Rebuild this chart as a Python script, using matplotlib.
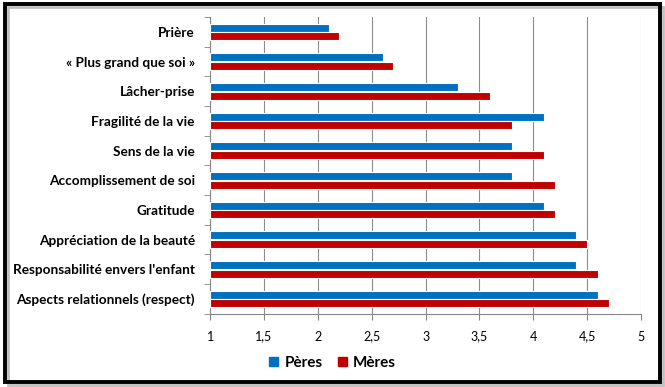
import matplotlib.pyplot as plt
import matplotlib.patches as mpatches
import numpy as np

plt.rcParams['font.family'] = ['Lato', 'DejaVu Sans']

# données
categories = ['Prière', '« Plus grand que soi »', 'Lâcher-prise', 'Fragilité de la vie',
              'Sens de la vie', 'Accomplissement de soi', 'Gratitude',
              'Appréciation de la beauté', "Responsabilité envers l'enfant",
              'Aspects relationnels (respect)']
peres = [2.1, 2.6, 3.3, 4.1, 3.8, 3.8, 4.1, 4.4, 4.4, 4.6]
meres = [2.2, 2.7, 3.6, 3.8, 4.1, 4.2, 4.2, 4.5, 4.6, 4.7]
xticks = [1, 1.5, 2, 2.5, 3, 3.5, 4, 4.5, 5]
xticklabels = ['1', '1,5', '2', '2,5', '3', '3,5', '4', '4,5', '5']

blue = '#0070C0'
red = '#C00000'

fig = plt.figure(figsize=(6.65, 3.87), dpi=100)
ax = fig.add_axes([0.316, 0.189, 0.648, 0.767])

n = len(categories)
y = np.arange(n)[::-1]
h = 0.27
ax.barh(y + h / 2 + 0.01, np.array(peres) - 1, left=1, height=h, color=blue,
        edgecolor='white', linewidth=0.8, label='Pères', zorder=3)
ax.barh(y - h / 2 - 0.01, np.array(meres) - 1, left=1, height=h, color=red,
        edgecolor='white', linewidth=0.8, label='Mères', zorder=3)

ax.set_xlim(1, 5)
ax.set_ylim(-0.5, n - 0.5)
ax.set_xticks(xticks)
ax.set_xticklabels(xticklabels, fontsize=9)
ax.set_yticks(y)
ax.set_yticklabels(categories, fontsize=9.8, fontweight='bold')
ax.set_yticks(np.arange(-0.5, n, 1), minor=True)
ax.tick_params(axis='y', which='major', length=0, pad=11)
ax.tick_params(axis='y', which='minor', length=4, color='#868686')
ax.tick_params(axis='x', length=4, color='#868686', pad=8)
ax.grid(axis='x', color='#8C8C8C', linewidth=0.8, zorder=0)
for s in ['top', 'right']:
    ax.spines[s].set_visible(False)
for s in ['left', 'bottom']:
    ax.spines[s].set_color('#868686')

fig.legend(handles=[mpatches.Patch(color=blue, label='Pères'),
                    mpatches.Patch(color=red, label='Mères')],
           loc='center', bbox_to_anchor=(0.5, 0.062), ncol=2, frameon=False,
           prop={'weight': 'bold', 'size': 11}, handlelength=0.6, handleheight=0.6,
           columnspacing=1.0, handletextpad=0.4)

# cadre avec ombre
fig.patches.append(mpatches.Rectangle((0.012, 0.006), 0.985, 0.975, transform=fig.transFigure,
                                      fill=False, edgecolor='#C0C0C0', linewidth=2.0))
fig.patches.append(mpatches.Rectangle((0.008, 0.014), 0.985, 0.975, transform=fig.transFigure,
                                      fill=False, edgecolor='black', linewidth=2.8))

fig.savefig('out.png', dpi=100)
